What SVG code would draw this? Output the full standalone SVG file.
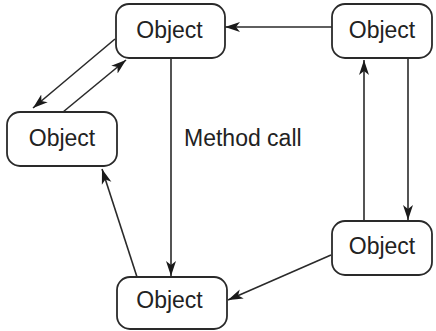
<svg xmlns="http://www.w3.org/2000/svg" width="436" height="331" viewBox="0 0 436 331">
<style>
.node rect{fill:#fff;stroke:#2a2a2a;stroke-width:1.8}
.node text,.label{font-family:"Liberation Sans",Arial,sans-serif;font-size:23px;fill:#222;text-anchor:middle}
.label{text-anchor:start}
#connectors line{stroke:#2a2a2a;stroke-width:1.6;fill:none;marker-end:url(#ah)}
</style>
<defs>
<marker id="ah" markerUnits="userSpaceOnUse" markerWidth="16" markerHeight="12" refX="15" refY="6" orient="auto">
<path d="M0,1 L15,6 L0,11 L4,6 z" fill="#1a1a1a"/>
</marker>
</defs>
<rect width="436" height="331" fill="#fff"/>
<g id="connectors">
<line x1="332" y1="27" x2="225" y2="27"/>
<line x1="171" y1="58" x2="171" y2="276"/>
<line x1="115" y1="39" x2="33" y2="108"/>
<line x1="63" y1="112" x2="126" y2="60"/>
<line x1="137" y1="277" x2="102" y2="169"/>
<line x1="364" y1="221" x2="364" y2="60"/>
<line x1="408" y1="58" x2="408" y2="220"/>
<line x1="331" y1="255" x2="228" y2="300"/>
</g>
<g id="node-top" class="node"><rect x="116" y="4" width="109" height="54" rx="13"/><text x="169.5" y="37.5">Object</text></g>
<g id="node-topright" class="node"><rect x="332" y="4" width="100" height="54" rx="13"/><text x="382" y="37.5">Object</text></g>
<g id="node-left" class="node"><rect x="7" y="112" width="110" height="54" rx="13"/><text x="62" y="146">Object</text></g>
<g id="node-bottom" class="node"><rect x="117" y="277" width="110" height="52" rx="13"/><text x="169.5" y="308">Object</text></g>
<g id="node-bottomright" class="node"><rect x="332" y="221" width="100" height="54" rx="13"/><text x="382" y="254">Object</text></g>
<text class="label" x="184" y="146">Method call</text>
</svg>
